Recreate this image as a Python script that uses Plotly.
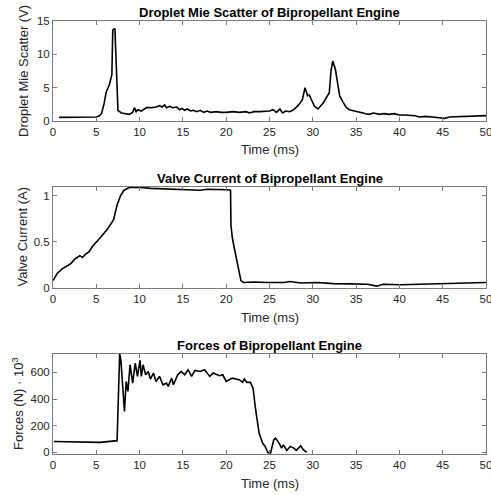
import plotly.graph_objects as go

# ---- Droplet Mie scatter (V) ----
t_mie = [0.7, 2.0, 4.0, 5.0, 5.3, 5.6, 5.9, 6.15, 6.5, 6.8, 6.9, 7.0, 7.15, 7.3, 7.5, 7.9, 8.8, 9.2, 9.4, 9.6, 9.8,
         10.2, 10.5, 10.8, 11.3, 11.9, 12.3, 12.6, 12.9, 13.1, 13.5, 13.8, 14.3, 14.6, 14.9, 15.2, 15.5, 15.9, 16.2,
         16.6, 17.0, 17.4, 17.8, 18.2, 18.9, 19.4, 20.0, 20.8, 21.5, 22.3, 22.7, 23.2,
         23.9, 24.5, 25.0, 25.4, 25.8, 26.2, 26.5, 26.9, 27.3, 27.7, 28.3, 28.8, 29.1, 29.4, 29.6, 29.8, 30.2, 30.6,
         31.2, 31.7, 31.9, 32.1, 32.3, 32.6, 32.9, 33.1, 33.5, 33.9, 34.2, 34.6, 35.0, 35.4, 35.8, 36.1, 36.5,
         37.0, 37.7, 38.2, 38.8, 39.4, 40.0, 40.6, 41.2, 41.8, 42.3, 43.0, 43.8, 44.5, 45.2, 45.8, 46.5, 47.7, 49.0, 50.0]
v_mie = [0.55, 0.55, 0.58, 0.6, 0.75, 1.1, 2.6, 4.4, 5.4, 7.0, 13.6, 13.8, 13.8, 8.0, 1.6, 1.2, 1.0, 1.3, 2.0, 1.4, 1.7,
         1.5, 1.7, 2.0, 2.0, 2.1, 2.3, 2.1, 2.4, 2.0, 2.2, 2.0, 2.1, 1.7, 1.9, 1.6, 1.8, 1.5, 1.6,
         1.4, 1.6, 1.3, 1.5, 1.3, 1.4, 1.3, 1.3, 1.4, 1.3, 1.4, 1.2, 1.4,
         1.4, 1.5, 1.5, 1.7, 1.3, 1.8, 1.2, 1.5, 1.4, 1.6, 2.3, 3.2, 5.0, 3.8, 3.9, 3.3, 2.2, 1.8,
         2.7, 3.8, 4.2, 7.5, 9.0, 7.8, 5.5, 3.8, 2.8, 2.0, 1.7, 1.6, 1.4, 1.3, 1.2, 1.1, 1.0,
         1.2, 1.0, 1.1, 1.0, 1.1, 0.9, 0.9, 0.8, 0.8, 0.6, 0.7, 0.6, 0.55, 0.4, 0.6, 0.65, 0.7, 0.75, 0.8]

# ---- Valve current (A) ----
t_cur = [0.0, 0.5, 1.1, 1.65, 2.0, 2.6, 3.1, 3.4, 3.8, 4.15, 4.55, 5.5, 6.3, 7.0, 7.4, 7.8, 8.2, 8.8, 10.1, 11.3,
         13.2, 15.5, 17.0, 17.8, 20.1, 20.5, 20.55, 20.6, 20.7, 20.9, 21.3, 21.7, 22.0, 23.2, 24.7, 26.6, 27.4,
         28.6, 30.5, 32.4, 34.3, 36.3, 37.4, 38.1, 40.1, 44.0, 47.8, 50.0]
v_cur = [0.08, 0.16, 0.21, 0.24, 0.26, 0.32, 0.35, 0.33, 0.37, 0.39, 0.45, 0.55, 0.64, 0.74, 0.90, 1.0, 1.06, 1.09, 1.09, 1.08,
         1.07, 1.065, 1.06, 1.07, 1.065, 1.06, 0.68, 0.6, 0.55, 0.45, 0.25, 0.08, 0.06, 0.065, 0.06, 0.06, 0.07,
         0.055, 0.06, 0.047, 0.045, 0.04, 0.02, 0.04, 0.036, 0.045, 0.055, 0.06]

# ---- Forces (N x 10^3) ----
t_frc = [0.1, 3.5, 5.45, 7.4, 7.7, 7.85, 8.0, 8.25, 8.45, 8.65, 8.9, 9.2, 9.5, 9.75, 10.05, 10.2, 10.4, 10.7, 11.0,
         11.25, 11.6, 11.9, 12.3, 12.7, 13.1, 13.3, 13.7, 13.9, 14.4, 14.8, 15.2, 15.6, 16.0, 16.4, 17.0, 17.5,
         18.1, 18.5, 19.2, 19.6, 20.0, 20.7, 21.5, 21.9, 22.1, 22.4, 22.8, 23.1, 23.4, 23.8, 24.2, 24.5, 24.8,
         25.1, 25.5, 25.7, 26.1, 26.4, 26.6, 27.0, 27.4, 27.8, 28.1, 28.6, 28.9, 29.3]
v_frc = [82, 78, 75, 88, 740, 683, 520, 307, 532, 457, 657, 520, 670, 570, 690, 570, 657, 582, 607,
         550, 595, 532, 570, 507, 520, 495, 557, 507, 582, 607, 582, 620, 570, 615, 607, 620,
         570, 595, 575, 582, 532, 557, 545, 525, 550, 525, 525, 482, 320, 145, 70, 45, 0,
         -10, 95, 107, 70, 32, 57, 15, 45, 32, 15, 50, 20, 0]

titles = ["Droplet Mie Scatter of Bipropellant Engine",
          "Valve Current of Bipropellant Engine",
          "Forces of Bipropellant Engine"]
ylabels = ["Droplet Mie Scatter (V)", "Valve Current (A)", "Forces (N) · 10<sup>3</sup>"]
xlabel = "Time (ms)"

W, H = 491, 495
L, R = 53, 5
panels_px = [(21, 121), (187, 288), (354, 454)]  # top, bottom in pixels
ylabel_x = [23, 22, 18]
yranges = [[0, 15], [0, 1.095], [-12, 738]]
ytickvals = [[0, 5, 10, 15], [0, 0.5, 1], [0, 200, 400, 600]]
yticktext = [["0", "5", "10", "15"], ["0", "0.5", "1"], ["0", "200", "400", "600"]]
xticks = list(range(0, 51, 5))

FONT = "Liberation Sans, Arial, sans-serif"
frame = "#7a7a7a"
txt = "#262626"

fig = go.Figure()
series = [(t_mie, v_mie), (t_cur, v_cur), (t_frc, v_frc)]
annotations = []
PW = W - L - R
for i, (tx, vy) in enumerate(series):
    xa = "x" if i == 0 else f"x{i+1}"
    ya = "y" if i == 0 else f"y{i+1}"
    fig.add_trace(go.Scatter(x=tx, y=vy, mode="lines", xaxis=xa, yaxis=ya,
                             line=dict(color="black", width=1.6), showlegend=False,
                             hoverinfo="skip"))
    top, bot = panels_px[i]
    dom = [1 - bot / H, 1 - top / H]
    fig.layout[("xaxis" if i == 0 else f"xaxis{i+1}")] = dict(
        domain=[0, 1], range=[0, 50], tickvals=xticks, ticktext=[str(v) for v in xticks], anchor=ya)
    fig.layout[("yaxis" if i == 0 else f"yaxis{i+1}")] = dict(
        domain=dom, range=yranges[i], tickvals=ytickvals[i], ticktext=yticktext[i], anchor=xa)
    cx = ((L + (W - R)) / 2 - L) / PW
    annotations.append(dict(text=f"<b>{titles[i]}</b>", x=cx, y=1 - (top - 9) / H, xref="paper", yref="paper",
                            xanchor="center", yanchor="middle", showarrow=False,
                            font=dict(family=FONT, size=13, color="black")))
    annotations.append(dict(text=xlabel, x=cx, y=1 - (bot + 29) / H, xref="paper", yref="paper",
                            xanchor="center", yanchor="middle", showarrow=False,
                            font=dict(family=FONT, size=13, color=txt)))
    annotations.append(dict(text=ylabels[i], x=(ylabel_x[i] - L) / PW, y=1 - (top + bot) / 2 / H,
                            xref="paper", yref="paper",
                            xanchor="center", yanchor="middle", showarrow=False, textangle=-90,
                            font=dict(family=FONT, size=13, color=txt)))

axcommon = dict(showline=True, linecolor=frame, linewidth=1, mirror="ticks",
                ticks="inside", ticklen=4, tickcolor=frame, showgrid=False, zeroline=False,
                ticklabeloverflow="allow", automargin=False,
                tickfont=dict(family=FONT, size=11.5, color=txt))
fig.update_xaxes(**axcommon)
fig.update_yaxes(**axcommon)

fig.update_layout(width=W, height=H, margin=dict(l=L, r=R, t=0, b=0),
                  paper_bgcolor="white", plot_bgcolor="white", annotations=annotations)

fig.write_html("out.html", config={"displayModeBar": False})
